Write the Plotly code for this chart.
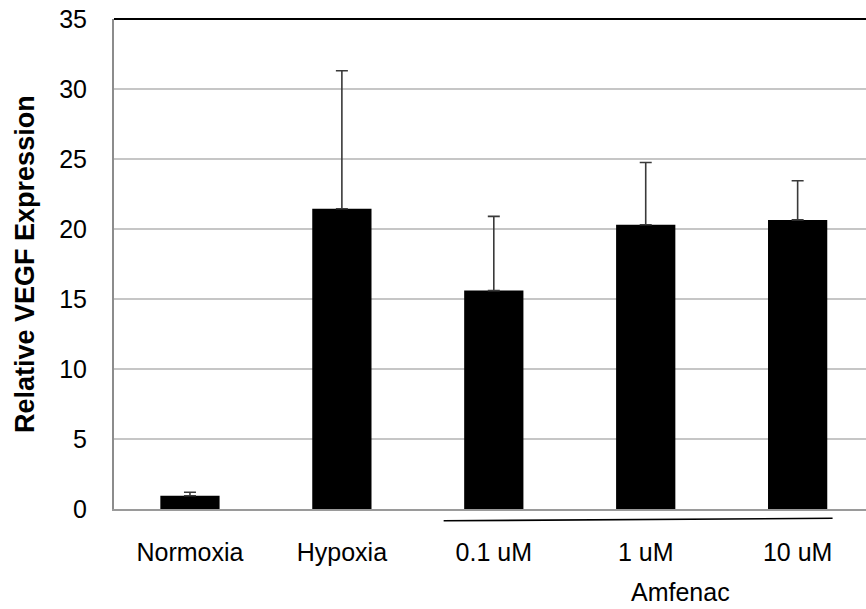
import plotly.graph_objects as go

# Relative VEGF expression by condition (mean and upper error)
categories = ["Normoxia", "Hypoxia", "0.1 uM", "1 uM", "10 uM"]
expression = [0.95, 21.45, 15.6, 20.3, 20.65]
error_plus = [0.25, 9.85, 5.3, 4.45, 2.8]
y_ticks = [0, 5, 10, 15, 20, 25, 30, 35]

FONT = "Liberation Sans, Arial, sans-serif"

fig = go.Figure()
fig.add_trace(go.Bar(
    x=list(range(len(categories))),
    y=expression,
    width=0.39,
    marker=dict(color="black", line=dict(width=0)),
    error_y=dict(type="data", array=error_plus, arrayminus=[0] * len(error_plus),
                 symmetric=False, color="#3a3a3a", thickness=1.6, width=6),
))

fig.update_layout(
    width=866, height=609,
    margin=dict(l=114, r=0, t=19, b=100),
    paper_bgcolor="white", plot_bgcolor="white",
    showlegend=False,
    font=dict(family=FONT, size=25, color="black"),
    xaxis=dict(
        range=[-0.5, 4.45],
        tickmode="array", tickvals=list(range(len(categories))), ticktext=categories,
        showgrid=False, zeroline=False,
        showline=True, linecolor="#9a9a9a", linewidth=2,
        ticks="", ticklabelstandoff=20,
        tickfont=dict(family=FONT, size=25, color="black"),
    ),
    yaxis=dict(
        range=[0, 35],
        tickmode="array", tickvals=y_ticks,
        showgrid=True, gridcolor="#c6c6c6", gridwidth=2,
        zeroline=False,
        showline=True, linecolor="#8c8c8c", linewidth=2,
        ticks="", ticklabelstandoff=20,
        tickfont=dict(family=FONT, size=25, color="black"),
    ),
)

# Top border of the plot area
fig.add_shape(type="line", xref="paper", yref="paper", x0=0, x1=1, y0=1, y1=1,
              line=dict(color="black", width=2))

# Bracket line grouping the Amfenac doses
fig.add_shape(type="line", xref="x", yref="paper", x0=1.67, x1=4.23, y0=-0.024, y1=-0.019,
              line=dict(color="black", width=1.6))

fig.add_annotation(text="Amfenac", xref="paper", yref="paper",
                   x=(680 - 114) / 752, y=(509 - 592) / 490, xanchor="center", yanchor="middle",
                   showarrow=False, font=dict(family=FONT, size=25, color="black"))

fig.add_annotation(text="<b>Relative VEGF Expression</b>", xref="paper", yref="paper",
                   x=(25 - 114) / 752, y=0.5, xanchor="center", yanchor="middle",
                   textangle=-90, showarrow=False,
                   font=dict(family=FONT, size=27, color="black"))

fig.write_html("out.html")
